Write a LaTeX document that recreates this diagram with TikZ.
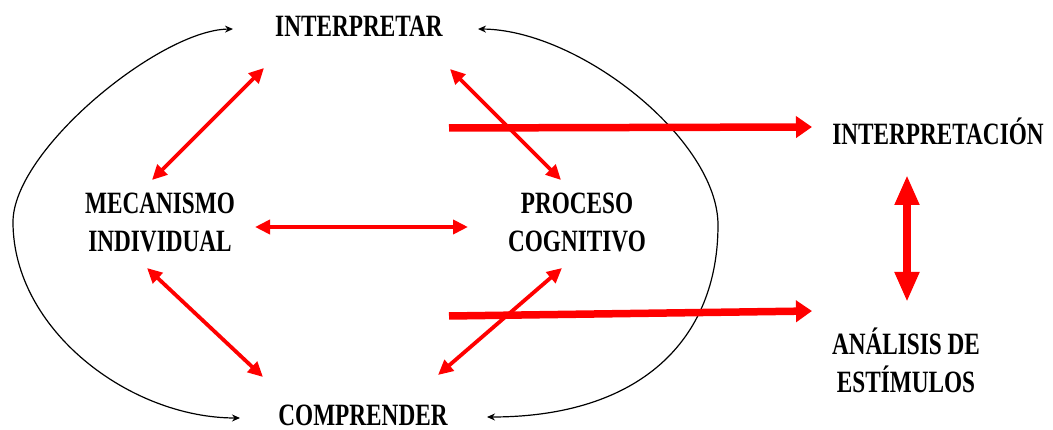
\documentclass[tikz,border=0pt]{standalone}
\usepackage{fontspec}
\setmainfont{Liberation Serif}[FakeStretch=0.75]
\usetikzlibrary{arrows.meta}
\begin{document}
\begin{tikzpicture}[x=1pt,y=-1pt,
  lbl/.style={font=\fontsize{31}{38}\selectfont\bfseries, inner sep=0pt, anchor=base, align=center},
  redlink/.style={draw=red, line width=3.8pt, {Triangle[length=15pt,width=14pt]}-{Triangle[length=15pt,width=14pt]}},
  redflow/.style={draw=red, line width=7.5pt, -{Triangle[length=16pt,width=21pt]}},
  redbig/.style={draw=red, line width=7.5pt, {Triangle[length=30pt,width=23pt]}-{Triangle[length=30pt,width=23pt]}},
  loop/.style={draw=black, line width=1.2pt, {Stealth[length=8pt,width=7pt]}-{Stealth[length=8pt,width=7pt]}}
]
\useasboundingbox (0,0) rectangle (1053,430);

% labels (multi-line labels: base = last line)
\node[lbl] (interp) at (359,37) {INTERPRETAR};
\node[lbl] (compr) at (363,426) {COMPRENDER};
\node[lbl] (mecan) at (160,252) {MECANISMO\\INDIVIDUAL};
\node[lbl] (proc) at (577,252) {PROCESO\\COGNITIVO};
\node[lbl] (interpc) at (938,145) {INTERPRETACIÓN};
\node[lbl] (anal) at (906,393) {ANÁLISIS DE\\ESTÍMULOS};

% arrow end points
\coordinate (im1) at (264,68);  \coordinate (im2) at (152,180);
\coordinate (ip1) at (450,69);  \coordinate (ip2) at (561,180);
\coordinate (mp1) at (255,227); \coordinate (mp2) at (468,227);
\coordinate (mc1) at (147,268); \coordinate (mc2) at (263,377);
\coordinate (pc1) at (562,268); \coordinate (pc2) at (438,375);
\coordinate (t1s) at (449,128); \coordinate (t1e) at (812,127);
\coordinate (t2s) at (449,316); \coordinate (t2e) at (812,311);
\coordinate (v1) at (907,175);  \coordinate (v2) at (907,302);
\coordinate (lt) at (233,29);   \coordinate (lm) at (13,222);  \coordinate (lb) at (240,418);
\coordinate (rt) at (478,29);   \coordinate (rm) at (718,225); \coordinate (rb) at (487,417);

% black loops
\draw[loop] (lt) .. controls (160,30) and (13,150) .. (lm) .. controls (13,330) and (130,418) .. (lb);
\draw[loop] (rt) .. controls (580,30) and (718,140) .. (rm) .. controls (718,340) and (640,417) .. (rb);

% thin red links
\draw[redlink] (im1) -- (im2);
\draw[redlink] (ip1) -- (ip2);
\draw[redlink] (mp1) -- (mp2);
\draw[redlink] (mc1) -- (mc2);
\draw[redlink] (pc1) -- (pc2);

% thick red flows
\draw[redflow] (t1s) -- (t1e);
\draw[redflow] (t2s) -- (t2e);
\draw[redbig] (v1) -- (v2);
\end{tikzpicture}
\end{document}
